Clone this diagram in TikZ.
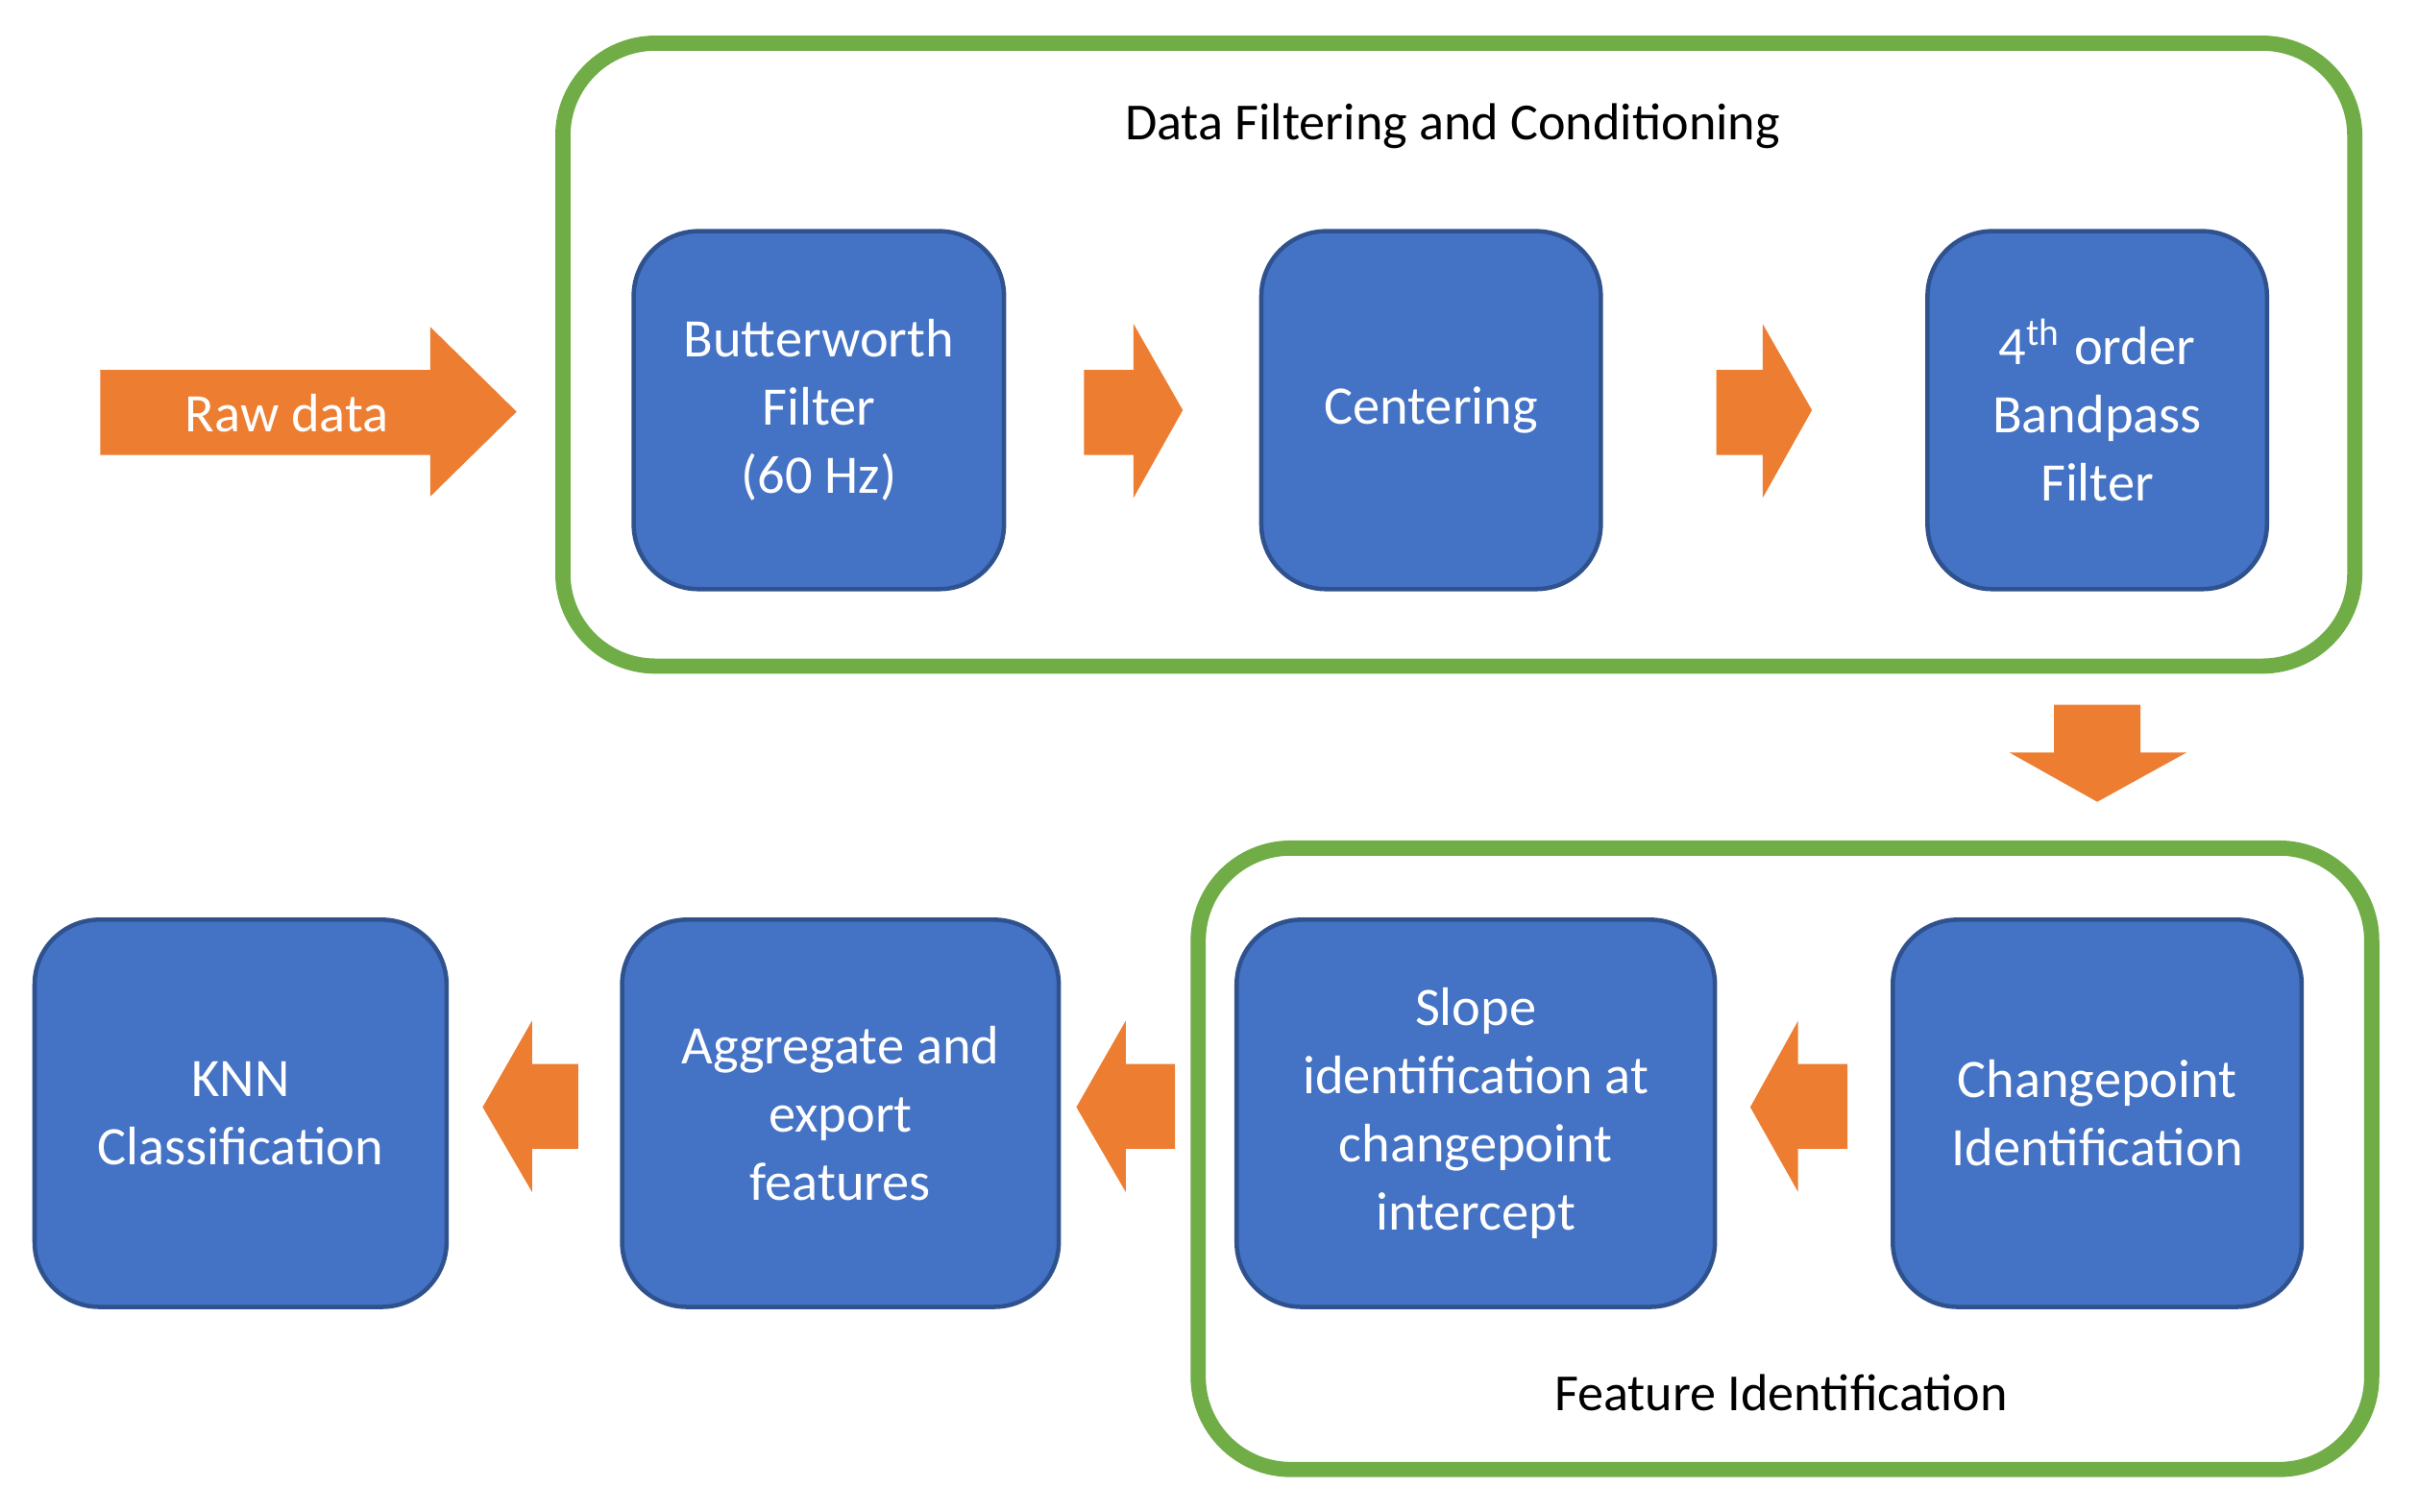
\documentclass[tikz,border=0pt]{standalone}
\usepackage{fontspec}
\setmainfont{Carlito}
\usetikzlibrary{positioning}
\definecolor{boxblue}{HTML}{4472C4}
\definecolor{boxedge}{HTML}{2F528F}
\definecolor{grpgreen}{HTML}{70AD47}
\definecolor{arrorange}{HTML}{ED7D31}
\tikzset{
  stage/.style = {draw=boxedge, fill=boxblue, line width=0.8pt, rounded corners=0.42cm,
                 text=white, align=center, font=\fontsize{10}{12.6}\selectfont},
  group/.style = {draw=grpgreen, line width=2.8pt, rounded corners=0.6cm},
  arr/.style = {fill=arrorange},
  grptitle/.style = {font=\fontsize{9.6}{12}\selectfont}
}
\begin{document}
\begin{tikzpicture}[x=0.01cm, y=-0.01cm]
  \useasboundingbox (0,0) rectangle (1568,980);
  %\draw[help lines] (0,0) grid (1568,980);

  % groups
  \draw[group] (365,28) rectangle (1527,432);
  \node[grptitle] (t1) at (942,82) {Data Filtering and Conditioning};
  \draw[group] (777,550) rectangle (1538,953);
  \node[grptitle] (t2) at (1155,903) {Feature Identification};

  % stages
  \node[stage, minimum width=2.4cm, minimum height=2.32cm] (butter) at (531,266) {Butterworth\\Filter\\(60 Hz)};
  \node[stage, minimum width=2.2cm, minimum height=2.32cm] (center) at (928,266) {Centering};
  \node[stage, minimum width=2.2cm, minimum height=2.32cm] (band) at (1360,266) {4\textsuperscript{th} order\\Bandpass\\Filter};
  \node[stage, minimum width=2.67cm, minimum height=2.51cm] (knn) at (156,722) {KNN\\Classification};
  \node[stage, minimum width=2.83cm, minimum height=2.51cm] (aggr) at (545,722) {Aggregate and\\export\\features};
  \node[stage, minimum width=3.1cm, minimum height=2.51cm] (slope) at (957,722) {Slope\\identification at\\changepoint\\intercept};
  \node[stage, minimum width=2.65cm, minimum height=2.51cm] (change) at (1360,722) {Changepoint\\Identification};

  % arrows
  \fill[arr] (65,240) -- (279,240) -- (279,212) -- (335,267) -- (279,322) -- (279,295) -- (65,295) -- cycle;
  \node[text=white, font=\fontsize{10}{12}\selectfont] (raw) at (186,268) {Raw data};
  \fill[arr] (703,240) -- (735,240) -- (735,210) -- (767,266) -- (735,323) -- (735,295) -- (703,295) -- cycle;
  \fill[arr] (1113,240) -- (1143,240) -- (1143,210) -- (1175,266) -- (1143,323) -- (1143,295) -- (1113,295) -- cycle;
  \fill[arr] (1332,457) -- (1388,457) -- (1388,488) -- (1418,488) -- (1360,520) -- (1303,488) -- (1332,488) -- cycle;
  \fill[arr] (1198,690) -- (1166,690) -- (1166,662) -- (1135,718) -- (1166,773) -- (1166,745) -- (1198,745) -- cycle;
  \fill[arr] (762,690) -- (730,690) -- (730,662) -- (698,718) -- (730,773) -- (730,745) -- (762,745) -- cycle;
  \fill[arr] (375,690) -- (345,690) -- (345,662) -- (313,718) -- (345,773) -- (345,745) -- (375,745) -- cycle;
\end{tikzpicture}
\end{document}
